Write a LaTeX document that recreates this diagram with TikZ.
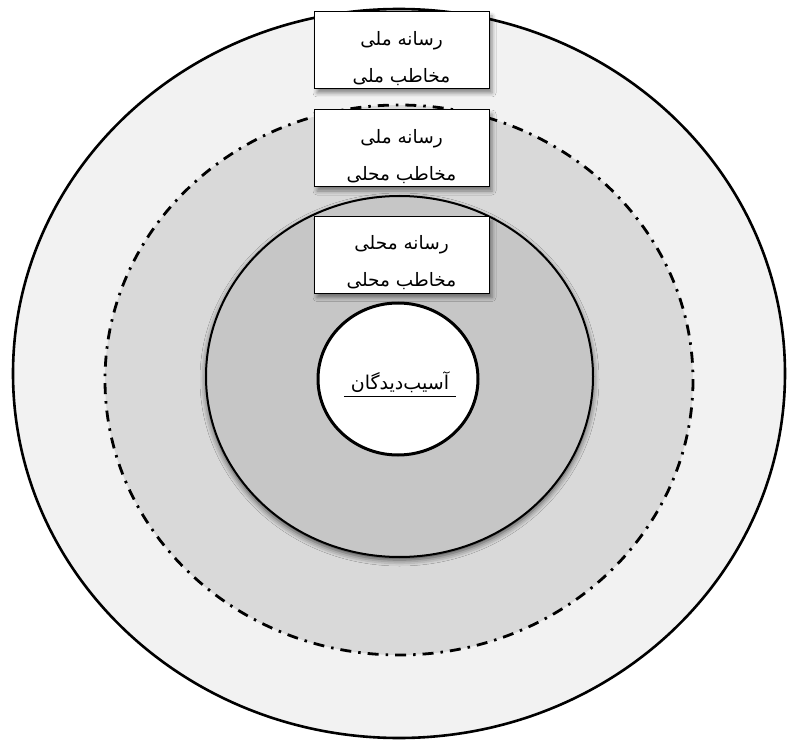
\documentclass[tikz,border=0pt]{standalone}
\usepackage{fontspec}
\newfontfamily\farsi[Script=Arabic]{DejaVu Sans}
\TeXXeTstate=1
\usetikzlibrary{shadows,shadows.blur}

\tikzset{
  ring/.style={draw=black,line width=2.6pt},
  dashring/.style={draw=black,line width=2.8pt,dash pattern=on 11pt off 7pt on 2.5pt off 7pt},
  label box/.style={rectangle,draw=black,line width=1pt,fill=white,
    minimum width=175pt,minimum height=77pt,inner sep=0pt,
    align=center,font=\farsi\fontsize{18.5}{37}\selectfont,
    blur shadow={shadow xshift=3pt,shadow yshift=-4pt,shadow blur radius=4pt,shadow opacity=45}}
}
\newcommand{\topstrut}{\rule{0pt}{30pt}}

\begin{document}
\begin{tikzpicture}[x=1pt,y=-1pt]
  \useasboundingbox (0,0) rectangle (788,741);

  \filldraw[ring,fill=gray!10] (399,373.5) ellipse [x radius=386,y radius=364.5];
  \fill[gray!30] (399,380) ellipse [x radius=294,y radius=275];
  \draw[dashring] (399,380) ellipse [x radius=294,y radius=275];
  \filldraw[draw=black,line width=2pt,fill=gray!45,
    blur shadow={shadow xshift=0pt,shadow yshift=-3pt,shadow blur radius=6pt,shadow opacity=70}]
    (399.5,376.5) ellipse [x radius=193.5,y radius=180.5];
  \filldraw[ring,fill=white,line width=3pt] (398,379) ellipse [x radius=80,y radius=76];

  \node (victim) [font=\farsi\fontsize{19}{22}\selectfont,inner sep=2pt] at (400,382) {\beginR آسیب‌دیدگان\endR};
  \draw[line width=1pt] ([xshift=-5pt,yshift=-2pt]victim.south west) -- ([xshift=5pt,yshift=-2pt]victim.south east);

  \node (national) [label box] at (401.5,50.5) {\topstrut\beginR رسانه ملی\endR\\\beginR مخاطب ملی\endR};
  \node (mixed) [label box] at (401.5,148.5) {\topstrut\beginR رسانه ملی\endR\\\beginR مخاطب محلی\endR};
  \node (local) [label box] at (401.5,255) {\topstrut\beginR رسانه محلی\endR\\\beginR مخاطب محلی\endR};
\end{tikzpicture}
\end{document}
